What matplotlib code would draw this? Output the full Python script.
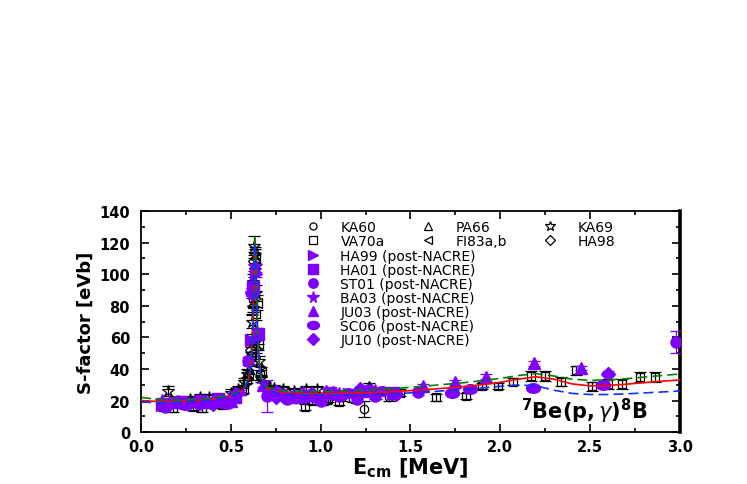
import numpy as np
import matplotlib
matplotlib.use("Agg")
import matplotlib.pyplot as plt
from matplotlib.path import Path
from matplotlib.transforms import Affine2D
from matplotlib.ticker import MultipleLocator, FormatStrFormatter

plt.rcParams['font.family'] = ['DejaVu Sans']
plt.rcParams['mathtext.fontset'] = 'dejavusans'

# model curves (R-matrix fits)
curve_e = [0.0, 0.1, 0.2, 0.3, 0.4, 0.5, 0.55, 0.58, 0.60, 0.61, 0.615, 0.62, 0.625,
           0.63, 0.633, 0.636, 0.64, 0.645, 0.65, 0.655, 0.66, 0.67, 0.68, 0.70, 0.75,
           0.80, 0.9, 1.0, 1.2, 1.4, 1.6, 1.8, 1.9, 2.0, 2.1, 2.2, 2.3, 2.4, 2.5, 2.6,
           2.7, 2.8, 2.9, 3.0]
red_s = [20.0, 19.3, 19.3, 19.8, 20.8, 23.0, 25.5, 29.0, 35.0, 42.0, 49.0, 61.0, 82.0,
         112.0, 121.0, 116.0, 99.0, 76.0, 58.0, 47.0, 40.0, 33.0, 30.0, 27.5, 25.5,
         24.8, 24.2, 24.2, 24.6, 25.5, 27.0, 28.8, 30.0, 31.5, 33.5, 35.0, 33.5, 30.5,
         29.3, 29.5, 30.3, 31.3, 32.2, 33.0]
green_s = [22.0, 20.5, 20.3, 20.6, 21.5, 23.6, 26.0, 29.5, 35.5, 42.5, 50.0, 62.0, 84.0,
           114.0, 123.0, 118.0, 101.0, 78.0, 59.5, 48.0, 41.0, 34.0, 31.0, 28.5, 26.8,
           26.0, 25.5, 25.6, 26.3, 27.5, 29.3, 31.3, 32.6, 34.0, 35.8, 37.0, 35.5, 33.5,
           32.8, 33.0, 33.8, 34.8, 35.8, 36.8]
blue_s = [19.0, 18.6, 18.9, 19.5, 20.5, 22.7, 25.2, 28.6, 34.5, 41.5, 48.5, 60.0, 81.0,
          110.0, 120.0, 115.0, 98.0, 75.0, 57.0, 46.0, 39.0, 32.5, 29.5, 27.5, 25.0,
          24.2, 23.5, 23.3, 23.5, 24.2, 25.5, 27.0, 28.0, 29.0, 29.8, 29.3, 26.5, 24.5,
          23.8, 23.8, 24.2, 24.8, 25.4, 26.0]

# pre-NACRE data (open symbols)
ka60_e = [0.86, 0.94, 1.03, 1.12, 1.18, 1.24, 1.31, 1.38]
ka60_s = [21, 22, 20, 22, 21, 14.5, 23, 22]
ka60_err = [2, 2, 2, 2, 2, 5, 2, 2]

pa66_e = [0.60, 0.622, 0.642, 0.72, 1.27]
pa66_s = [40, 82, 55, 27, 29]
pa66_err = [3, 6, 5, 2, 2]

ka69_e = [0.15, 0.21, 0.27, 0.33, 0.38, 0.44, 0.50, 0.54, 0.57, 0.59, 0.605, 0.615, 0.62,
          0.625, 0.63, 0.635, 0.64, 0.645, 0.655, 0.67, 0.70, 0.74, 0.79, 0.85, 0.92, 0.98]
ka69_s = [26, 20, 21, 22, 22, 20, 25, 27, 32, 37, 45, 58, 70, 95, 118, 112, 88, 62, 45,
          34, 28, 28, 27, 26, 27, 27]
ka69_err = [3, 2, 2, 2, 2, 2, 2, 2, 2, 3, 3, 4, 4, 5, 6, 5, 5, 4, 3, 2, 2, 2, 2, 2, 2, 2]

va70_e = [0.12, 0.18, 0.24, 0.29, 0.34, 0.40, 0.45, 0.49, 0.53, 0.56, 0.59, 0.61, 0.625,
          0.64, 0.66, 0.69, 0.73, 0.78, 0.83, 0.91, 0.95, 1.04, 1.10, 1.30, 1.44, 1.64,
          1.81, 1.90, 1.99, 2.07, 2.17, 2.25, 2.34, 2.42, 2.51, 2.60, 2.68, 2.78, 2.86]
va70_s = [16, 15, 17, 16, 15, 18, 17, 20, 25, 26, 33, 48, 85, 75, 36, 30, 25, 24, 23, 16,
          20, 21, 19, 23, 25, 22, 23, 29, 29, 32, 35.5, 35.5, 32, 39, 29, 30.5, 30.5, 35, 35]
va70_err = [2, 2, 2, 2, 2, 2, 2, 2, 2, 2, 2, 3, 5, 4, 3, 2, 2, 2, 2, 2, 2, 2, 2, 2, 2, 2,
            2, 2, 2, 2, 3, 3, 3, 3, 3, 3, 3, 3, 3]

fi83_e = [0.36, 0.46, 0.52, 0.565, 0.595, 0.61, 0.62, 0.628, 0.636, 0.644, 0.652, 0.665,
          0.69, 0.76, 0.87]
fi83_s = [18, 19, 22, 27, 36, 50, 80, 104, 110, 82, 56, 38, 29, 25, 23]
fi83_err = [2, 2, 2, 2, 3, 4, 5, 6, 6, 5, 4, 3, 2, 2, 2]

ha98_e = [0.61, 0.63, 0.65, 1.05]
ha98_s = [52, 108, 60, 24]
ha98_err = [4, 6, 4, 2]

# post-NACRE data (filled symbols)
ha99_e = [0.116, 0.19, 0.27, 0.36, 0.45, 0.55, 0.61, 0.638, 0.78, 0.95, 1.16]
ha99_s = [17, 19, 18, 19, 20, 25, 58, 100, 26, 22, 24]

ha01_e = [0.22, 0.33, 0.43, 0.52, 0.625, 0.65, 0.72, 0.86, 1.05, 1.25, 1.40]
ha01_s = [19, 20, 21, 22, 92, 62, 24, 22, 25, 26, 25]

st01_e = [0.13, 0.24, 0.32, 0.41, 0.595, 0.70, 0.81, 0.91, 1.00, 1.10, 1.20, 1.30, 1.54, 2.98]
st01_s = [16, 18, 18, 20, 45, 23, 21, 22, 20, 23, 21, 23, 25.6, 57]
st01_err = [1.5, 1.5, 1.5, 1.5, 2.5, 10, 2, 2, 2, 2, 2, 2, 2, 7]

ba03_e = [0.116, 0.20, 0.30, 0.46, 0.62, 0.633, 0.90, 1.10, 1.30]
ba03_s = [20, 19, 19, 19, 88, 105, 25, 24, 26]

ju03_e = [0.22, 0.37, 0.50, 0.62, 0.68, 0.85, 1.03, 1.28, 1.57, 1.75, 1.92, 2.19, 2.45]
ju03_s = [19, 19, 20, 90, 30, 24, 26, 27, 29, 31.5, 35, 43.5, 40.5]

sc06_e = [0.30, 0.48, 0.80, 0.99, 1.15, 1.34, 1.73, 1.83, 2.18, 2.57]
sc06_s = [19, 18, 22, 21, 25, 26, 25, 27, 28, 30]

ju10_e = [0.15, 0.26, 0.40, 0.50, 0.617, 0.75, 0.95, 1.07, 1.22, 1.42, 2.60]
ju10_s = [17, 18, 18, 21, 88, 22, 24, 25, 27, 24, 37]

purple = '#7f00ff'
ellipse = Path(Affine2D().scale(1.45, 1.0).transform(Path.unit_circle().vertices),
               Path.unit_circle().codes)

fig = plt.figure(figsize=(7.47, 4.85), dpi=100)
ax = fig.add_axes([0.189, 0.107, 0.721, 0.456])

open_sets = [
    (ka60_e, ka60_s, ka60_err, 'o', 6, 'KA60'),
    (va70_e, va70_s, va70_err, 's', 6, 'VA70a'),
    (pa66_e, pa66_s, pa66_err, '^', 7, 'PA66'),
    (fi83_e, fi83_s, fi83_err, '<', 7, 'FI83a,b'),
    (ka69_e, ka69_s, ka69_err, '*', 9, 'KA69'),
    (ha98_e, ha98_s, ha98_err, 'D', 6, 'HA98'),
]
open_handles, open_labels = [], []
for e, s, err, m, ms, lab in open_sets:
    ax.errorbar(e, s, yerr=err, fmt='none', ecolor='black', elinewidth=0.9,
                capsize=4, capthick=0.9, zorder=3)
    h, = ax.plot(e, s, linestyle='none', marker=m, ms=ms, mfc='none', mec='black',
                 mew=0.9, zorder=3)
    open_handles.append(h)
    open_labels.append(lab)

full_sets = [
    (ha99_e, ha99_s, None, '>', 9, 'HA99 (post-NACRE)'),
    (ha01_e, ha01_s, None, 's', 8, 'HA01 (post-NACRE)'),
    (st01_e, st01_s, st01_err, 'o', 8, 'ST01 (post-NACRE)'),
    (ba03_e, ba03_s, None, '*', 10, 'BA03 (post-NACRE)'),
    (ju03_e, ju03_s, None, '^', 9, 'JU03 (post-NACRE)'),
    (sc06_e, sc06_s, None, ellipse, 10, 'SC06 (post-NACRE)'),
    (ju10_e, ju10_s, None, 'D', 7, 'JU10 (post-NACRE)'),
]
full_handles, full_labels = [], []
for e, s, err, m, ms, lab in full_sets:
    if err is None:
        err = [1.5] * len(e)
    ax.errorbar(e, s, yerr=err, fmt='none', ecolor=purple, elinewidth=0.9,
                capsize=4, capthick=0.9, zorder=4)
    h, = ax.plot(e, s, linestyle='none', marker=m, ms=ms, color=purple, mec=purple,
                 zorder=4)
    full_handles.append(h)
    full_labels.append(lab)

ax.plot(curve_e, red_s, color='red', lw=1.2, zorder=5)
ax.plot(curve_e, green_s, color='#008000', lw=1.2, ls=(0, (6, 3)), zorder=5)
ax.plot(curve_e, blue_s, color='#1030ff', lw=1.2, ls=(0, (6, 3)), zorder=5)

ax.set_xlim(0, 3.0)
ax.set_ylim(0, 140)
ax.xaxis.set_major_locator(MultipleLocator(0.5))
ax.xaxis.set_minor_locator(MultipleLocator(0.25))
ax.yaxis.set_major_locator(MultipleLocator(20))
ax.yaxis.set_minor_locator(MultipleLocator(10))
ax.xaxis.set_major_formatter(FormatStrFormatter('%.1f'))
ax.tick_params(which='both', direction='in', top=True, right=True, width=1.2)
ax.tick_params(which='major', length=6, labelsize=10.5)
ax.tick_params(axis='y', which='major', pad=8)
ax.tick_params(axis='x', which='major', pad=5)
ax.tick_params(which='minor', length=3)
for t in ax.get_xticklabels() + ax.get_yticklabels():
    t.set_fontweight('bold')
for side in ['left', 'top', 'bottom']:
    ax.spines[side].set_linewidth(1.3)
ax.spines['right'].set_linewidth(2.6)

ax.set_xlabel(r'$\mathbf{E_{cm}}$ [MeV]', fontsize=15, fontweight='bold', labelpad=1)
ax.set_ylabel('S-factor [eVb]', fontsize=13, fontweight='bold', labelpad=3)

ax.text(0.94, 0.1, r'$\mathbf{^{7}Be(p,}\gamma\mathbf{)^{8}B}$', transform=ax.transAxes,
        fontsize=15, ha='right', va='center')

leg_kw = dict(loc='upper left', frameon=False, fontsize=10, handlelength=1.0,
              handletextpad=1.5, labelspacing=0.0, borderaxespad=0, borderpad=0,
              numpoints=1, markerscale=0.85)
leg1 = ax.legend(open_handles, open_labels, ncol=3, bbox_to_anchor=(0.3056, 0.96),
                 columnspacing=2.6, **leg_kw)
ax.add_artist(leg1)
ax.legend(full_handles, full_labels, bbox_to_anchor=(0.3056, 0.83), **leg_kw)

fig.savefig('out.png', dpi=100)
